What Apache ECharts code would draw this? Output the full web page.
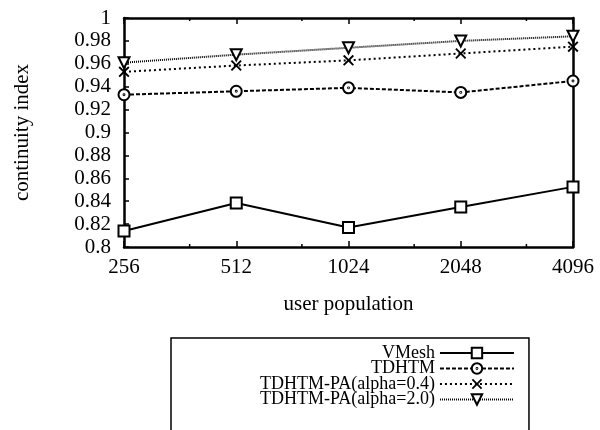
<!DOCTYPE html>
<html>
<head>
<meta charset="utf-8">
<script src="https://cdn.jsdelivr.net/npm/echarts@6/dist/echarts.min.js"></script>
<style>html,body{margin:0;padding:0;background:#fff;}#c{width:600px;height:430px;}</style>
</head>
<body>
<div id="c"></div>
<script>
const populations = [256, 512, 1024, 2048, 4096];
const minorTickValues = [384, 768, 1536, 3072];
const seriesNames = ['VMesh', 'TDHTM', 'TDHTM-PA(alpha=0.4)', 'TDHTM-PA(alpha=2.0)'];
const vmesh = [0.814, 0.8385, 0.817, 0.835, 0.8525];
const tdhtm = [0.933, 0.936, 0.939, 0.935, 0.945];
const pa04 = [0.953, 0.9585, 0.963, 0.969, 0.975];
const pa20 = [0.961, 0.968, 0.974, 0.980, 0.984];
const yMin = 0.8, yMax = 1.0, yStep = 0.02;

const FONT = 'Liberation Serif';
const chart = echarts.init(document.getElementById('c'), null, {renderer: 'canvas'});

function pairs(vals) { return populations.map((p, i) => [p, vals[i]]); }

const circleDot = 'path://M0 5A5 5 0 1 1 10 5A5 5 0 1 1 0 5ZM4.6 5A0.4 0.4 0 1 1 5.4 5A0.4 0.4 0 1 1 4.6 5Z';
const crossPath = 'path://M0 1.2L1.2 0L5 3.8L8.8 0L10 1.2L6.2 5L10 8.8L8.8 10L5 6.2L1.2 10L0 8.8L3.8 5Z';
const triDown = 'path://M0 0L10 0L5 9Z';

const xCommon = {
  type: 'log', logBase: 2, min: populations[0], max: populations[populations.length - 1],
  splitNumber: 4,
  splitLine: {show: false}
};

chart.setOption({
  backgroundColor: '#fff',
  animation: false,
  grid: {left: 124, right: 27, top: 18, bottom: 183},
  legend: {
    data: seriesNames,
    orient: 'vertical',
    align: 'right',
    left: 171, top: 338, height: 400,
    padding: [6, 14, 80, 89],
    borderColor: '#000', borderWidth: 1.5,
    itemWidth: 74, itemHeight: 13, itemGap: -2.5,
    textStyle: {fontFamily: FONT, fontSize: 18, color: '#000'},
    selectedMode: false
  },
  xAxis: [
    Object.assign({}, xCommon, {
      position: 'bottom',
      name: 'user population', nameLocation: 'middle', nameGap: 47,
      nameTextStyle: {fontFamily: FONT, fontSize: 21, color: '#000'},
      axisLine: {lineStyle: {color: '#000', width: 2.5}},
      axisTick: {inside: true, length: 6, lineStyle: {color: '#000', width: 1.5}},
      axisLabel: {fontFamily: FONT, fontSize: 21, color: '#000', margin: 10,
        formatter: v => String(Math.round(v))}
    }),
    Object.assign({}, xCommon, {
      position: 'top',
      axisLine: {lineStyle: {color: '#000', width: 2.5}},
      axisTick: {inside: true, length: 6, lineStyle: {color: '#000', width: 1.5}},
      axisLabel: {show: false}
    })
  ],
  yAxis: [
    {
      type: 'value', min: yMin, max: yMax, interval: yStep, position: 'left',
      name: 'continuity index', nameLocation: 'middle', nameGap: 91,
      nameTextStyle: {fontFamily: FONT, fontSize: 21, color: '#000'},
      axisLine: {show: true, lineStyle: {color: '#000', width: 2.5}},
      axisTick: {show: true, inside: true, length: 5, lineStyle: {color: '#000', width: 1.5}},
      axisLabel: {fontFamily: FONT, fontSize: 21, color: '#000', margin: 13,
        formatter: v => String(+v.toFixed(2))},
      splitLine: {show: false}
    },
    {
      type: 'value', min: yMin, max: yMax, interval: yStep, position: 'right',
      axisLine: {show: true, lineStyle: {color: '#000', width: 2.5}},
      axisTick: {show: false}, axisLabel: {show: false}, splitLine: {show: false}
    }
  ],
  series: [
    {
      name: seriesNames[0], type: 'line', data: pairs(vmesh),
      symbol: 'rect', symbolSize: 11, showAllSymbol: true,
      lineStyle: {color: '#000', width: 2, type: 'solid'},
      itemStyle: {color: '#fff', borderColor: '#000', borderWidth: 2}
    },
    {
      name: seriesNames[1], type: 'line', data: pairs(tdhtm),
      symbol: circleDot, symbolSize: 11,
      lineStyle: {color: '#000', width: 2, type: [4, 2]},
      itemStyle: {color: '#fff', borderColor: '#000', borderWidth: 2}
    },
    {
      name: seriesNames[2], type: 'line', data: pairs(pa04),
      symbol: crossPath, symbolSize: 11,
      lineStyle: {color: '#000', width: 2, type: [2, 3]},
      itemStyle: {color: '#000', borderWidth: 0}
    },
    {
      name: seriesNames[3], type: 'line', data: pairs(pa20),
      symbol: triDown, symbolSize: 11,
      lineStyle: {color: '#000', width: 2, type: [1, 1]},
      itemStyle: {color: '#fff', borderColor: '#000', borderWidth: 2}
    },
    {
      type: 'custom', silent: true, z: 5,
      data: minorTickValues.map(v => [v]),
      renderItem: function (params, api) {
        const v = api.value(0);
        const b = api.coord([v, yMin]);
        const t = api.coord([v, yMax]);
        return {type: 'group', children: [
          {type: 'line', shape: {x1: b[0], y1: b[1], x2: b[0], y2: b[1] - 3}, style: {stroke: '#000', lineWidth: 1.5}},
          {type: 'line', shape: {x1: t[0], y1: t[1], x2: t[0], y2: t[1] + 3}, style: {stroke: '#000', lineWidth: 1.5}}
        ]};
      }
    }
  ]
});
</script>
</body>
</html>
